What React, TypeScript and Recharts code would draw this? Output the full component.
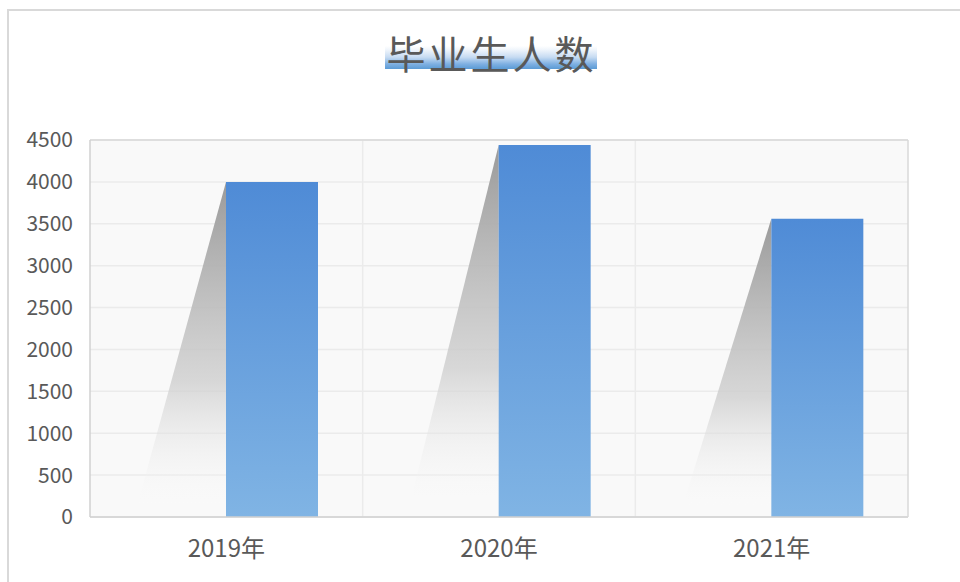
import React from 'react';
import { ComposedChart, Bar, XAxis, YAxis, CartesianGrid } from 'recharts';

const categories = ['2019年', '2020年', '2021年'];
const graduates = [4000, 4440, 3560];
const yTicks = [0, 500, 1000, 1500, 2000, 2500, 3000, 3500, 4000, 4500];
const minorTicks = Array.from({ length: 91 }, (_, i) => i * 50);
const title = '毕业生人数';

const data = categories.map((c, i) => ({ name: c, shadow: graduates[i], value: graduates[i] }));

const FONT = '"Noto Sans CJK SC", "Noto Sans", sans-serif';

const ShadowShape = (props: any) => {
  const { x, y, width, height } = props;
  if (height == null || height <= 0) return null;
  const d = `M${x + width},${y} L${x + width},${y + height} L${x},${y + height} Z`;
  return <path d={d} fill="url(#shadowGrad)" />;
};

export default function App() {
  return (
    <div style={{ position: 'absolute', left: 0, top: 0, width: 960, height: 582, overflow: 'hidden', background: '#fff' }}>
      <div
        style={{
          position: 'absolute',
          left: 7,
          top: 9,
          width: 1000,
          height: 700,
          border: '2px solid #d9d9d9',
          boxSizing: 'border-box',
        }}
      />
      <div
        style={{
          position: 'absolute',
          left: 0,
          top: 27,
          width: 982,
          textAlign: 'center',
          fontFamily: FONT,
        }}
      >
        <span
          style={{
            display: 'inline-block',
            fontSize: 39,
            letterSpacing: 3,
            paddingLeft: 1,
            color: '#595959',
            lineHeight: '50px',
            background:
              'linear-gradient(to bottom, rgba(255,255,255,0) 0%, rgba(255,255,255,0) 45%, #eef4fb 55%, #c6dbf2 72%, #7fb0e2 88%, #5b9bd5 100%)',
            backgroundSize: '100% 42px',
            backgroundRepeat: 'no-repeat',
            backgroundPosition: '0 0',
          }}
        >
          {title}
        </span>
      </div>
      <div style={{ position: 'absolute', left: 0, top: 0 }}>
        <ComposedChart
          width={960}
          height={582}
          data={data}
          margin={{ top: 140, right: 52, bottom: 25, left: 30 }}
          barGap={0}
          barSize={92}
        >
          <defs>
            <linearGradient id="barGrad" x1="0" y1="0" x2="0" y2="1">
              <stop offset="0%" stopColor="#4f8bd6" />
              <stop offset="100%" stopColor="#80b4e4" />
            </linearGradient>
            <linearGradient id="shadowGrad" x1="0" y1="0" x2="0" y2="1">
              <stop offset="0%" stopColor="#9a9a9a" stopOpacity={1} />
              <stop offset="60%" stopColor="#cfcfcf" stopOpacity={0.8} />
              <stop offset="100%" stopColor="#ffffff" stopOpacity={0} />
            </linearGradient>
          </defs>
          <CartesianGrid
            fill="#f9f9f9"
            stroke="#ebebeb"
            strokeWidth={1.5}
            verticalCoordinatesGenerator={({ offset }: any) => [1, 2].map((i) => offset.left + (offset.width * i) / 3)}
          />
          <XAxis
            dataKey="name"
            tickLine={false}
            axisLine={{ stroke: '#d0d0d0', strokeWidth: 1.5 }}
            tick={{ fill: '#595959', fontSize: 24, fontFamily: FONT }}
            tickMargin={17}
            height={40}
          />
          <XAxis
            xAxisId="top"
            dataKey="name"
            orientation="top"
            mirror
            tick={false}
            tickLine={false}
            axisLine={{ stroke: '#d9d9d9', strokeWidth: 1.5 }}
          />
          <YAxis
            domain={[0, 4500]}
            ticks={yTicks}
            interval={0}
            tickLine={false}
            axisLine={{ stroke: '#d0d0d0', strokeWidth: 1.5 }}
            tick={{ fill: '#595959', fontSize: 21, fontFamily: FONT }}
            tickMargin={11}
            width={60}
          />
          <YAxis
            yAxisId="minor"
            domain={[0, 4500]}
            ticks={minorTicks}
            interval={0}
            mirror
            tick={false}
            axisLine={false}
            tickLine={{ stroke: '#d0d0d0' }}
            tickSize={6}
          />
          <YAxis
            yAxisId="right"
            orientation="right"
            domain={[0, 4500]}
            mirror
            tick={false}
            tickLine={false}
            axisLine={{ stroke: '#d9d9d9', strokeWidth: 1.5 }}
          />
          <Bar dataKey="shadow" shape={<ShadowShape />} isAnimationActive={false} />
          <Bar dataKey="value" fill="url(#barGrad)" isAnimationActive={false} />
        </ComposedChart>
      </div>
    </div>
  );
}
